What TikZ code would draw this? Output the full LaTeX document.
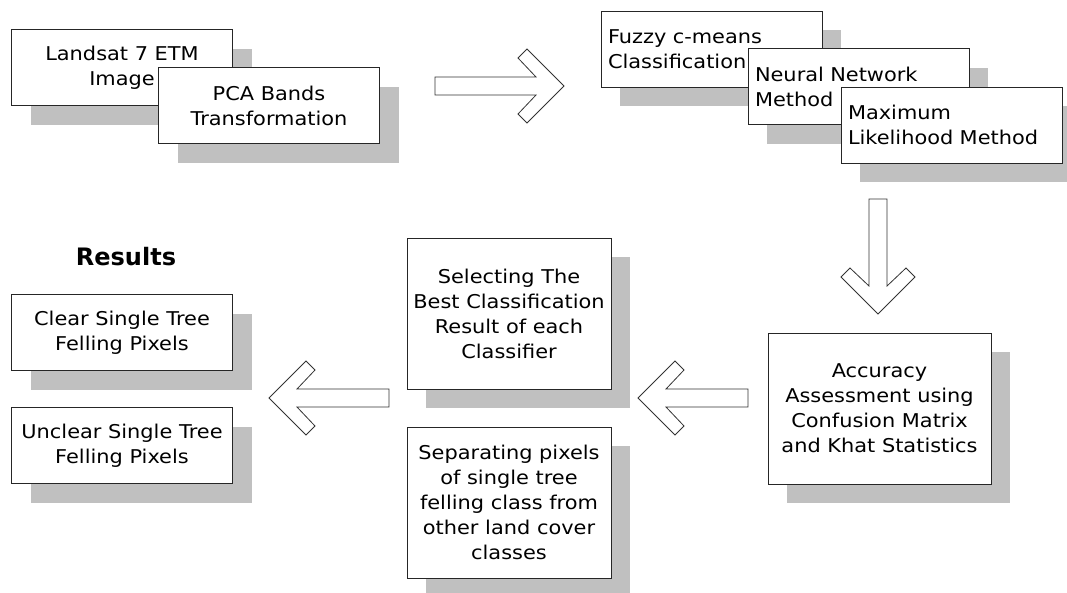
\documentclass[tikz,border=0pt]{standalone}
\usepackage{fontspec}
\setmainfont{DejaVu Sans}[FakeStretch=1.1]
\newfontfamily\headfont{DejaVu Sans}
\usetikzlibrary{shadows}
\definecolor{shadegray}{HTML}{C0C0C0}
\tikzset{
  box/.style={draw=black!85, line width=0.9pt, fill=white, inner sep=0pt,
    font=\fontsize{19}{25}\selectfont,
    drop shadow={shadow xshift=19pt, shadow yshift=-19pt, fill=shadegray, opacity=1}},
  wide box/.style={box, minimum width=221pt, minimum height=76pt, align=center},
  left box/.style={box, text width=207pt, inner xsep=7pt, minimum height=76pt, align=left},
  tall box/.style={box, minimum width=#1, minimum height=151pt, align=center},
  arrowbody/.style={draw=black!80, line width=0.8pt, fill=white, line join=miter},
  chevron/.pic={
    \filldraw[arrowbody] (-#1,-9) -- (-28,-9) -- (-46,-28) -- (-37,-37) -- (0,0)
      -- (-37,37) -- (-46,28) -- (-28,9) -- (-#1,9) -- cycle;
  },
}
\begin{document}
\begin{tikzpicture}[x=1pt, y=-1pt]
\useasboundingbox (0,0) rectangle (1067,592);

% input stage
\node[wide box] (landsat) at (122,67.5) {Landsat 7 ETM\\Image};
\node[wide box] (pca) at (269,105.5) {PCA Bands\\Transformation};

% classifiers
\node[left box] (fcm) at (711.5,49) {Fuzzy c-means\\Classification};
\node[left box] (nn) at (858.5,86.5) {Neural Network\\Method};
\node[left box] (ml) at (951.5,125) {Maximum\\Likelihood Method};

% evaluation
\node[tall box=223pt] (acc) at (879.5,408.5) {Accuracy\\Assessment using\\Confusion Matrix\\and Khat Statistics};
\node[tall box=204pt] (sel) at (509,313.5) {Selecting The\\Best Classification\\Result of each\\Classifier};
\node[tall box=204pt] (sep) at (509,502.5) {Separating pixels\\of single tree\\felling class from\\other land cover\\classes};

% results
\node[font=\headfont\bfseries\fontsize{24}{28}\selectfont, anchor=base, inner sep=0pt] (res) at (126,265) {Results};
\node[wide box] (clear) at (122,332.5) {Clear Single Tree\\Felling Pixels};
\node[wide box] (unclear) at (122,445.5) {Unclear Single Tree\\Felling Pixels};

% block arrows between the stages
\coordinate (tipA) at (564,86);
\coordinate (tipB) at (878,314);
\coordinate (tipC) at (638,398);
\coordinate (tipD) at (269,398);
\pic at (tipA) {chevron=129};
\pic[rotate=-90] at (tipB) {chevron=115};
\pic[rotate=180] at (tipC) {chevron=110};
\pic[rotate=180] at (tipD) {chevron=120};
\end{tikzpicture}
\end{document}
